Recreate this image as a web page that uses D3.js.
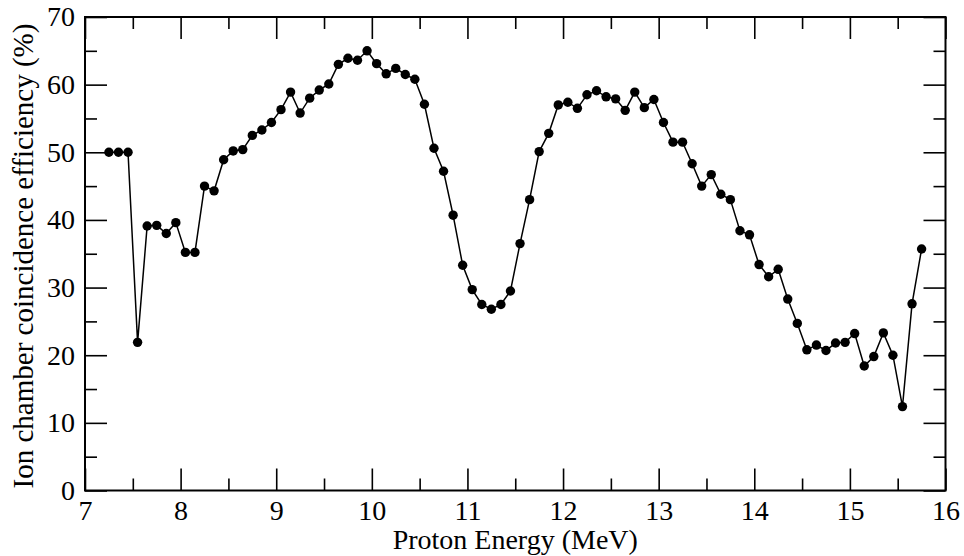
<!DOCTYPE html>
<html>
<head>
<meta charset="utf-8">
<script src="https://cdn.jsdelivr.net/npm/d3@7"></script>
<style>
    body { margin: 0; background: #fff; }
    svg text { font-family: "Liberation Serif", Tinos, "Times New Roman", Times, serif; fill: #000; }
</style>
</head>
<body>
<div id="chart"></div>
<script>
var energy = [
    7.25, 7.35, 7.45, 7.55, 7.65, 7.75, 7.85, 7.95, 8.05, 8.15,
    8.25, 8.35, 8.45, 8.55, 8.65, 8.75, 8.85, 8.95, 9.05, 9.15,
    9.25, 9.35, 9.45, 9.55, 9.65, 9.75, 9.85, 9.95, 10.05, 10.15,
    10.25, 10.35, 10.45, 10.55, 10.65, 10.75, 10.85, 10.95, 11.05, 11.15,
    11.25, 11.35, 11.45, 11.55, 11.65, 11.75, 11.85, 11.95, 12.05, 12.15,
    12.25, 12.35, 12.45, 12.55, 12.65, 12.75, 12.85, 12.95, 13.05, 13.15,
    13.25, 13.35, 13.45, 13.55, 13.65, 13.75, 13.85, 13.95, 14.05, 14.15,
    14.25, 14.35, 14.45, 14.55, 14.65, 14.75, 14.85, 14.95, 15.05, 15.15,
    15.25, 15.35, 15.45, 15.55, 15.65, 15.75
];
var efficiency = [
    50.0, 50.0, 50.0, 21.9, 39.1, 39.2, 38.0, 39.6, 35.2, 35.2,
    45.0, 44.3, 48.9, 50.2, 50.4, 52.5, 53.3, 54.4, 56.3, 58.9,
    55.8, 58.0, 59.2, 60.1, 63.0, 63.9, 63.6, 65.0, 63.1, 61.6,
    62.4, 61.5, 60.8, 57.1, 50.6, 47.2, 40.7, 33.3, 29.7, 27.5,
    26.8, 27.5, 29.5, 36.5, 43.0, 50.1, 52.8, 57.0, 57.4, 56.5,
    58.5, 59.1, 58.2, 57.9, 56.2, 58.9, 56.6, 57.8, 54.4, 51.5,
    51.5, 48.3, 45.0, 46.7, 43.8, 43.0, 38.4, 37.8, 33.4, 31.6,
    32.7, 28.3, 24.7, 20.8, 21.5, 20.7, 21.8, 21.9, 23.2, 18.4,
    19.8, 23.3, 20.0, 12.4, 27.6, 35.7
];
var xTicks = [7, 8, 9, 10, 11, 12, 13, 14, 15, 16];
var xMinor = [7.5, 8.5, 9.5, 10.5, 11.5, 12.5, 13.5, 14.5, 15.5];
var yTicks = [0, 10, 20, 30, 40, 50, 60, 70];
var yMinor = [5, 15, 25, 35, 45, 55, 65];
var xTitle = "Proton Energy (MeV)";
var yTitle = "Ion chamber coincidence efficiency (%)";

(function () {

    var width = 964,
        height = 556,
        margin = {top: 17, right: 18.5, bottom: 65.5, left: 85},
        w = width - margin.left - margin.right,
        h = height - margin.top - margin.bottom,
        major = 22,
        minor = 12,
        serif = "'Liberation Serif', Tinos, 'Times New Roman', Times, serif";

    var x = d3.scaleLinear().domain([7, 16]).range([0, w]),
        y = d3.scaleLinear().domain([0, 70]).range([h, 0]);

    var svg = d3.select("#chart")
        .append("svg")
        .attr("width", width)
        .attr("height", height);

    var g = svg.append("g")
        .attr("transform", "translate(" + margin.left + "," + margin.top + ")");

    // ticks on all four sides, pointing inward
    function ticks(axis, vals, size) {
        return axis.tickValues(vals).tickSize(-size).tickPadding(10);
    }

    var axes = [
        {ax: ticks(d3.axisBottom(x), xTicks, major).tickFormat(d3.format("d")), t: [0, h]},
        {ax: ticks(d3.axisBottom(x), xMinor, minor).tickFormat(""), t: [0, h]},
        {ax: ticks(d3.axisTop(x), xTicks, major).tickFormat(""), t: [0, 0]},
        {ax: ticks(d3.axisTop(x), xMinor, minor).tickFormat(""), t: [0, 0]},
        {ax: ticks(d3.axisLeft(y), yTicks, major).tickFormat(d3.format("d")), t: [0, 0]},
        {ax: ticks(d3.axisLeft(y), yMinor, minor).tickFormat(""), t: [0, 0]},
        {ax: ticks(d3.axisRight(y), yTicks, major).tickFormat(""), t: [w, 0]},
        {ax: ticks(d3.axisRight(y), yMinor, minor).tickFormat(""), t: [w, 0]}
    ];

    axes.forEach(function (a) {
        var sel = g.append("g")
            .attr("transform", "translate(" + a.t[0] + "," + a.t[1] + ")")
            .call(a.ax)
            .attr("font-family", serif)
            .attr("font-size", 28);
        sel.select(".domain").remove();
        sel.selectAll(".tick line").style("stroke", "#000").style("stroke-width", "1.6px");
    });

    // frame
    g.append("rect")
        .attr("width", w)
        .attr("height", h)
        .style("fill", "none")
        .style("stroke", "#000")
        .style("stroke-width", "2px");

    var pts = energy.map(function (e, i) { return [e, efficiency[i]]; });

    var line = d3.line()
        .x(function (d) { return x(d[0]); })
        .y(function (d) { return y(d[1]); });

    g.append("path")
        .datum(pts)
        .attr("d", line)
        .style("fill", "none")
        .style("stroke", "#000")
        .style("stroke-width", "1.5px");

    g.append("g").selectAll("circle")
        .data(pts)
        .enter()
        .append("circle")
        .attr("cx", function (d) { return x(d[0]); })
        .attr("cy", function (d) { return y(d[1]); })
        .attr("r", 4.7)
        .style("fill", "#000");

    svg.append("text")
        .text(xTitle)
        .attr("x", margin.left + w / 2)
        .attr("y", 549)
        .attr("font-family", serif)
        .style("text-anchor", "middle")
        .style("font-size", "28px");

    svg.append("text")
        .text(yTitle)
        .attr("transform", "translate(33,256) rotate(-90)")
        .attr("font-family", serif)
        .style("text-anchor", "middle")
        .style("font-size", "29px");
}());
</script>
</body>
</html>
